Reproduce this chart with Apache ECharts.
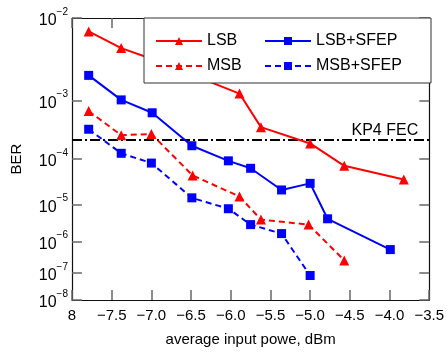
<!DOCTYPE html>
<html>
<head>
<meta charset="utf-8">
<script src="https://cdn.jsdelivr.net/npm/echarts@6/dist/echarts.min.js"></script>
<style>
  html, body { margin: 0; padding: 0; background: #fff; }
  #main { width: 447px; height: 352px; }
</style>
</head>
<body>
<div id="main"></div>
<script>
// values (x in dBm, y as BER)
const lsbX = [-7.79, -7.38, -7.0, -6.5, -5.89, -5.62, -5.0, -4.57, -3.82];
const lsbBer = [7.3e-3, 4.8e-3, 3.6e-3, 2.3e-3, 1.26e-3, 3.8e-4, 1.97e-4, 7.3e-5, 3.75e-5];

const lsbSfepX = [-7.79, -7.38, -6.99, -6.49, -6.03, -5.75, -5.36, -5.0, -4.78, -3.99];
const lsbSfepBer = [2.23e-3, 1.02e-3, 6.5e-4, 1.79e-4, 9.2e-5, 6.5e-5, 2.2e-5, 3.1e-5, 4.3e-6, 5.7e-7];

const msbX = [-7.79, -7.38, -7.0, -6.48, -5.89, -5.62, -5.02, -4.57];
const msbBer = [6.9e-4, 2.77e-4, 2.9e-4, 4.6e-5, 1.55e-5, 4.1e-6, 3.0e-6, 2.6e-7];

const msbSfepX = [-7.79, -7.38, -7.0, -6.49, -6.03, -5.75, -5.36, -5.0];
const msbSfepBer = [3.5e-4, 1.29e-4, 8.3e-5, 1.44e-5, 7.8e-6, 3.0e-6, 1.69e-6, 8.1e-8];

const kp4Ber = 2.2e-4;
const yTicks = [1e-2, 1e-3, 1e-4, 1e-5, 1e-6, 1e-7, 1e-8];
const xTicks = [-8, -7.5, -7, -6.5, -6, -5.5, -5, -4.5, -4, -3.5];
const xMin = -8, xMax = -3.5, xStep = 0.5;

const FONT = '"Liberation Sans", Arial, Helvetica, sans-serif';
const RED = '#ff0000';
const BLUE = '#0000ff';

// BER axis is drawn on a log(-log(BER)) scale
const q = (b) => Math.log10(-Math.log10(b));
const pts = (xs, bs) => xs.map((x, i) => [x, q(bs[i])]);
const yTickVals = yTicks.map(q);
const yTop = q(1e-2), yBot = q(1e-8);

// grid geometry (px) so tick length can be expressed in axis units
const GRID = { left: 72, right: 15, top: 18, bottom: 50 };
const plotW = 447 - GRID.left - GRID.right;
const plotH = 352 - GRID.top - GRID.bottom;
const TICK_LEN = 10;
const dx = (xMax - xMin) * TICK_LEN / plotW;
const dy = (yBot - yTop) * TICK_LEN / plotH;

const chart = echarts.init(document.getElementById('main'));

function mkSeries(name, xs, bs, color, symbol, dashed) {
  return {
    name: name,
    type: 'line',
    data: pts(xs, bs),
    symbol: symbol,
    symbolSize: symbol === 'triangle' ? 10 : 9,
    showAllSymbol: true,
    lineStyle: { color: color, width: 2, type: dashed ? [6, 4] : 'solid' },
    itemStyle: { color: color },
    z: 3,
  };
}

const series = [
  mkSeries('LSB', lsbX, lsbBer, RED, 'triangle', false),
  mkSeries('LSB+SFEP', lsbSfepX, lsbSfepBer, BLUE, 'rect', false),
  mkSeries('MSB', msbX, msbBer, RED, 'triangle', true),
  mkSeries('MSB+SFEP', msbSfepX, msbSfepBer, BLUE, 'rect', true),
];

series[0].markLine = {
  silent: true,
  symbol: 'none',
  z: 2,
  lineStyle: { color: '#000', width: 2, type: [10, 3, 2, 3] },
  label: {
    show: true,
    position: 'insideEndTop',
    formatter: 'KP4 FEC',
    color: '#000',
    fontSize: 16,
    fontFamily: FONT,
    distance: [11, 1],
  },
  data: [{ yAxis: q(kp4Ber) }],
};

// inside tick marks on all four sides of the frame
const tickSegs = [];
xTicks.forEach((v) => {
  tickSegs.push([{ coord: [v, yBot] }, { coord: [v, yBot - dy] }]);
  tickSegs.push([{ coord: [v, yTop] }, { coord: [v, yTop + dy] }]);
});
yTickVals.forEach((v) => {
  tickSegs.push([{ coord: [xMin, v] }, { coord: [xMin + dx, v] }]);
  tickSegs.push([{ coord: [xMax, v] }, { coord: [xMax - dx, v] }]);
});
series[1].markLine = {
  silent: true,
  symbol: 'none',
  z: 4,
  lineStyle: { color: '#666', width: 1.5, type: 'solid' },
  label: { show: false },
  emphasis: { disabled: true },
  data: tickSegs,
};

const line = () => ({ show: true, lineStyle: { color: '#111', width: 1.2 } });

const option = {
  animation: false,
  backgroundColor: '#fff',
  textStyle: { fontFamily: FONT },
  grid: GRID,
  graphic: [{
    type: 'rect',
    z: 50,
    shape: { x: 144, y: 18, width: 287, height: 65 },
    style: { fill: '#fff', stroke: '#333', lineWidth: 1 },
  }],
  legend: [
    {
      data: ['LSB', 'MSB'],
      orient: 'vertical',
      left: 150, top: 28,
      itemWidth: 46, itemHeight: 10, itemGap: 9,
      z: 60,
      textStyle: { fontSize: 16, color: '#000', fontFamily: FONT },
      selectedMode: false,
    },
    {
      data: ['LSB+SFEP', 'MSB+SFEP'],
      orient: 'vertical',
      left: 259, top: 28,
      itemWidth: 46, itemHeight: 10, itemGap: 9,
      z: 60,
      textStyle: { fontSize: 16, color: '#000', fontFamily: FONT },
      selectedMode: false,
    },
  ],
  xAxis: [
    {
      type: 'value',
      min: xMin, max: xMax, interval: xStep,
      name: 'average input powe, dBm',
      nameLocation: 'middle',
      nameGap: 32,
      nameTextStyle: { fontSize: 15, color: '#000', fontFamily: FONT },
      axisLine: line(),
      axisTick: { show: false },
      splitLine: { show: false },
      axisLabel: {
        margin: 8,
        fontSize: 15,
        color: '#000',
        fontFamily: FONT,
        formatter: (v) => (v === xMin ? '8' : '\u2212' + Math.abs(v).toFixed(1)),
      },
    },
    {
      type: 'value',
      position: 'top',
      min: xMin, max: xMax, interval: xStep,
      axisLine: line(),
      axisTick: { show: false },
      axisLabel: { show: false },
      splitLine: { show: false },
    },
  ],
  yAxis: [
    {
      type: 'value',
      inverse: true,
      min: yTop, max: yBot,
      name: 'BER',
      nameLocation: 'middle',
      nameGap: 48,
      nameTextStyle: { fontSize: 15, color: '#000', fontFamily: FONT },
      axisLine: line(),
      axisTick: { show: false },
      splitLine: { show: false },
      axisLabel: {
        customValues: yTickVals,
        margin: 4,
        formatter: (v) => '{b|10}{s|\u2212' + Math.round(Math.pow(10, v)) + '}',
        rich: {
          b: { fontSize: 16, color: '#000', fontFamily: FONT, padding: [6, 0, 0, 0] },
          s: { fontSize: 10, color: '#000', fontFamily: FONT, verticalAlign: 'top' },
        },
      },
    },
    {
      type: 'value',
      position: 'right',
      inverse: true,
      min: yTop, max: yBot,
      axisLine: line(),
      axisTick: { show: false },
      axisLabel: { show: false },
      splitLine: { show: false },
    },
  ],
  series: series,
};

chart.setOption(option);
window.onresize = () => {
  chart.resize();
};
</script>
</body>
</html>
